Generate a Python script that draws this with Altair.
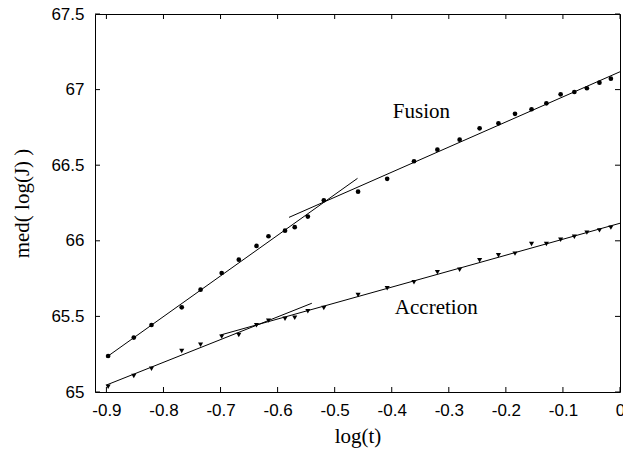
import altair as alt
import pandas as pd

# ---- data ----
fusion_x = [-0.897, -0.852, -0.821, -0.768, -0.735, -0.698, -0.668, -0.637, -0.616,
            -0.587, -0.570, -0.547, -0.519, -0.459, -0.408, -0.361, -0.320, -0.281,
            -0.246, -0.213, -0.184, -0.155, -0.129, -0.104, -0.080, -0.058, -0.036, -0.016]
fusion_y = [65.238, 65.360, 65.443, 65.560, 65.677, 65.787, 65.875, 65.966, 66.030,
            66.067, 66.090, 66.160, 66.268, 66.325, 66.410, 66.526, 66.603, 66.669,
            66.744, 66.777, 66.840, 66.870, 66.909, 66.969, 66.984, 67.009, 67.046, 67.072]
accr_x = fusion_x
accr_y = [65.035, 65.106, 65.154, 65.271, 65.313, 65.366, 65.377, 65.441, 65.472,
          65.485, 65.491, 65.534, 65.556, 65.641, 65.686, 65.726, 65.792, 65.809,
          65.871, 65.904, 65.915, 65.979, 65.979, 66.007, 66.027, 66.054, 66.069, 66.087]

# fitted segments (endpoints)
fit_id = ["F1", "F1", "F2", "F2", "A1", "A1", "A2", "A2"]
fit_x = [-0.90, -0.46, -0.58, 0.0, -0.90, -0.54, -0.70, 0.0]
fit_y = [65.23, 66.413, 66.155, 67.118, 65.046, 65.587, 65.377, 66.116]

label_text = ["Fusion", "Accretion"]
label_x = [-0.348, -0.322]
label_y = [66.852, 65.553]

x_ticks = [-0.9, -0.8, -0.7, -0.6, -0.5, -0.4, -0.3, -0.2, -0.1, 0.0]
y_ticks = [65.0, 65.5, 66.0, 66.5, 67.0, 67.5]

W, H = 525, 378
TICK = 5

xs = alt.Scale(domain=[-0.92, 0.0], nice=False, zero=False)
ys = alt.Scale(domain=[65.0, 67.5], nice=False, zero=False)

sans = "Liberation Sans"
serif = "Liberation Serif"

x_axis = alt.Axis(values=x_ticks, title="log(t)", grid=False, ticks=False, domain=False,
                  labelFont=sans, labelFontSize=17, labelColor="black", labelPadding=10,
                  labelFlush=False, labelOverlap=False,
                  labelExpr="replace(format(datum.value, '.1~f'), '\u2212', '-')",
                  titleFont=serif, titleFontSize=21, titleFontWeight="normal",
                  titleColor="black", titleBaseline="alphabetic", titleY=50)
y_axis = alt.Axis(values=y_ticks, title="med( log(J) )", grid=False, ticks=False, domain=False,
                  labelFont=sans, labelFontSize=17, labelColor="black", labelPadding=11,
                  labelFlush=False, labelOverlap=False,
                  labelExpr="format(datum.value, '.1~f')",
                  titleFont=serif, titleFontSize=21, titleFontWeight="normal",
                  titleColor="black", titleBaseline="alphabetic", titleX=-67, titleAngle=-90)

fus = pd.DataFrame({"x": fusion_x, "y": fusion_y})
acc = pd.DataFrame({"x": accr_x, "y": accr_y})
fits = pd.DataFrame({"id": fit_id, "x": fit_x, "y": fit_y})
labs = pd.DataFrame({"t": label_text, "x": label_x, "y": label_y})
xt = pd.DataFrame({"v": x_ticks})
yt = pd.DataFrame({"v": y_ticks})

base_axes = alt.Chart(fus).mark_point(opacity=0).encode(
    x=alt.X("x:Q", scale=xs, axis=x_axis),
    y=alt.Y("y:Q", scale=ys, axis=y_axis),
)

fus_pts = alt.Chart(fus).mark_point(shape="circle", filled=True, color="black", size=22, opacity=1).encode(
    x=alt.X("x:Q", scale=xs), y=alt.Y("y:Q", scale=ys))
acc_pts = alt.Chart(acc).mark_point(shape="triangle-down", filled=True, color="black", size=26, opacity=1).encode(
    x=alt.X("x:Q", scale=xs), y=alt.Y("y:Q", scale=ys))

fit_lines = alt.Chart(fits).mark_line(color="black", strokeWidth=1).encode(
    x=alt.X("x:Q", scale=xs), y=alt.Y("y:Q", scale=ys), detail="id:N")

texts = alt.Chart(labs).mark_text(font=serif, fontSize=21, color="black").encode(
    x=alt.X("x:Q", scale=xs), y=alt.Y("y:Q", scale=ys), text="t:N")

tick_b = alt.Chart(xt).mark_rule(color="black", strokeWidth=1).encode(
    x=alt.X("v:Q", scale=xs), y=alt.value(H), y2=alt.value(H - TICK))
tick_t = alt.Chart(xt).mark_rule(color="black", strokeWidth=1).encode(
    x=alt.X("v:Q", scale=xs), y=alt.value(0), y2=alt.value(TICK))
tick_l = alt.Chart(yt).mark_rule(color="black", strokeWidth=1).encode(
    y=alt.Y("v:Q", scale=ys), x=alt.value(0), x2=alt.value(TICK))
tick_r = alt.Chart(yt).mark_rule(color="black", strokeWidth=1).encode(
    y=alt.Y("v:Q", scale=ys), x=alt.value(W), x2=alt.value(W - TICK))

chart = alt.layer(base_axes, tick_b, tick_t, tick_l, tick_r, fit_lines, fus_pts, acc_pts, texts).properties(
    width=W, height=H,
    autosize=alt.AutoSizeParams(type="none"),
    padding={"left": 95, "top": 14, "right": 3, "bottom": 59},
    background="white",
).configure_view(stroke="black", strokeWidth=1)

chart.save("out.html", embed_options={"renderer": "svg", "actions": False})
